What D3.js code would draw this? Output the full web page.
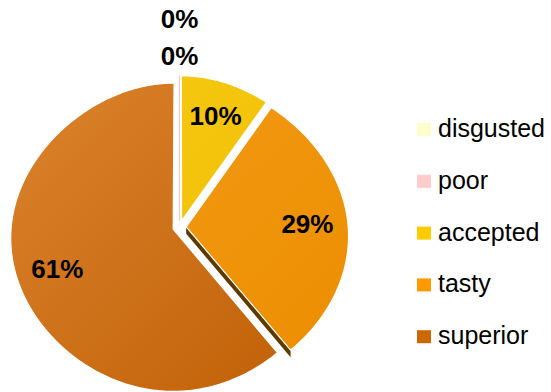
<!DOCTYPE html>
<html>
<head>
<meta charset="utf-8">
<script src="https://cdn.jsdelivr.net/npm/d3@7/dist/d3.min.js"></script>
<style>
  html, body { margin: 0; padding: 0; background: #ffffff; }
  svg { display: block; font-family: "Liberation Sans", Arial, sans-serif; }
</style>
</head>
<body>
<script>
// Ratings share
const categories = ["disgusted", "poor", "accepted", "tasty", "superior"];
const values = [0, 0, 10, 29, 61];
const valueLabels = ["0%", "0%", "10%", "29%", "61%"];

// Colours: legend swatch, lit top face, shaded top face, side wall
const swatchColors = ["#ffffcc", "#ffcccc", "#ffcc00", "#ff9900", "#cc6600"];
const faceLight = ["#ffffcc", "#f8c8c4", "#f6ca14", "#f49e1a", "#dc842e"];
const faceDark  = ["#ffffcc", "#f8c8c4", "#efbd00", "#ec8d00", "#bf5e04"];
const sideColors = ["#e0e0b0", "#d8a8a4", "#d9a600", "#5e3a00", "#6e3800"];

const W = 551, H = 392;
const cx = 179.5, cy = 227, R = 162, explode = 6.7, depth = 7;

const svg = d3.select("body").append("svg")
  .attr("width", W).attr("height", H);

// Slight perspective: the far (upper) half of the disc recedes.
function proj(u, v) {
  const t = v / R;
  return [cx + u * (1 + 0.067 * t - 0.07 * t * t), cy + v * (0.95 + 0.05 * t)];
}

const arcs = d3.pie().sort(null).value(d => d)(values);

const defs = svg.append("defs");
arcs.forEach((a, i) => {
  const g = defs.append("linearGradient")
    .attr("id", "grad" + i)
    .attr("gradientUnits", "userSpaceOnUse")
    .attr("x1", cx - R).attr("y1", cy - R)
    .attr("x2", cx + R).attr("y2", cy + R);
  g.append("stop").attr("offset", "0").attr("stop-color", faceLight[i]);
  g.append("stop").attr("offset", "1").attr("stop-color", faceDark[i]);
});

const line = d3.line();

function sliceGeom(a) {
  const mid = (a.startAngle + a.endAngle) / 2;
  const ou = explode * Math.sin(mid), ov = -explode * Math.cos(mid);
  const pts = [proj(ou, ov)];
  const n = Math.max(1, Math.ceil((a.endAngle - a.startAngle) / (Math.PI / 180)));
  for (let k = 0; k <= n; k++) {
    const th = a.startAngle + (a.endAngle - a.startAngle) * k / n;
    pts.push(proj(ou + R * Math.sin(th), ov - R * Math.cos(th)));
  }
  return { ou, ov, pts, mid };
}

const geoms = arcs.map(sliceGeom);

// Side walls along closing edges that face down toward the viewer
const sides = svg.append("g");
arcs.forEach((a, i) => {
  if (a.endAngle === a.startAngle) return;
  if (Math.sin(a.endAngle) <= 0.01 || Math.cos(a.endAngle) >= 0) return;
  const g = geoms[i];
  const v0 = g.pts[0], v1 = g.pts[g.pts.length - 1];
  sides.append("path")
    .attr("d", line([v0, v1, [v1[0], v1[1] + depth], [v0[0], v0[1] + depth]]) + "Z")
    .attr("fill", sideColors[i]);
});

// Top faces
const faces = svg.append("g");
arcs.forEach((a, i) => {
  const g = geoms[i];
  if (a.endAngle === a.startAngle) {
    faces.append("path")
      .attr("d", line([g.pts[0], g.pts[1]]))
      .attr("stroke", faceLight[i]).attr("stroke-width", 1.2).attr("fill", "none");
  } else {
    faces.append("path")
      .attr("d", line(g.pts) + "Z")
      .attr("fill", "url(#grad" + i + ")")
      .attr("stroke", "#ffffff").attr("stroke-width", 1.2)
      .attr("stroke-linejoin", "round");
  }
});

// Value labels
const labelG = svg.append("g")
  .attr("font-size", 26).attr("font-weight", "bold").attr("fill", "#000")
  .attr("text-anchor", "middle");
const zeroIdx = arcs.map((a, i) => i).filter(i => values[i] === 0);
arcs.forEach((a, i) => {
  const g = geoms[i];
  let p;
  if (values[i] === 0) {
    const top = proj(g.ou, g.ov - R);
    const j = zeroIdx.indexOf(i);
    p = [top[0], top[1] - 20 - (zeroIdx.length - 1 - j) * 36.5];
  } else {
    const rl = 0.75 * R;
    p = proj(g.ou + rl * Math.sin(g.mid), g.ov - rl * Math.cos(g.mid));
  }
  labelG.append("text")
    .attr("x", p[0]).attr("y", p[1]).attr("dy", "0.36em")
    .text(valueLabels[i]);
});

// Legend
const legend = svg.append("g").attr("transform", "translate(417,137)");
categories.forEach((c, i) => {
  const row = legend.append("g").attr("transform", `translate(0,${i * 51.8})`);
  row.append("rect").attr("x", 0).attr("y", -14).attr("width", 14).attr("height", 13)
    .attr("fill", swatchColors[i]);
  row.append("text").attr("x", 21).attr("y", 0)
    .attr("font-size", 25).attr("fill", "#000").text(c);
});
</script>
</body>
</html>
